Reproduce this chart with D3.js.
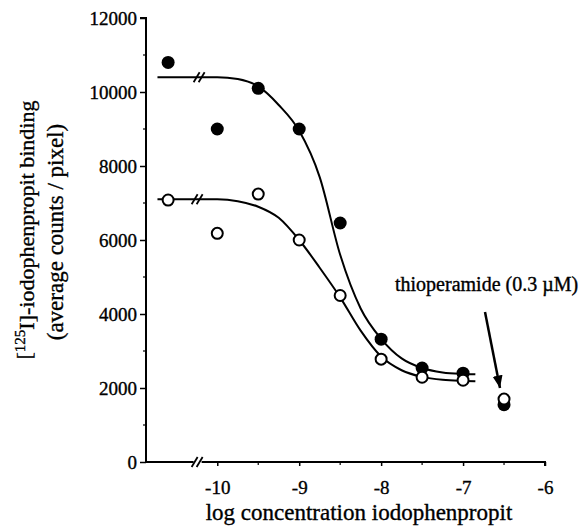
<!DOCTYPE html>
<html>
<head>
<meta charset="utf-8">
<script src="https://cdn.jsdelivr.net/npm/d3@7"></script>
<style>
  body { margin: 0; background: #fff; }
  svg text { font-family: "Liberation Serif", "Times New Roman", serif; fill: #000; stroke: #000; stroke-width: 0.35px; }
</style>
</head>
<body>
<div id="chart"></div>
<script>
// data
const concs = [-10.6, -10, -9.5, -9, -8.5, -8, -7.5, -7];
const filledVals = [10800, 9000, 10100, 9000, 6460, 3320, 2540, 2400];
const openVals = [7080, 6180, 7240, 6000, 4500, 2780, 2290, 2210];

// thioperamide points
const thioConc = -6.5;
const thioFilled = 1550;
const thioOpen = 1700;

// fitted curves (traced)
const curveX = [-10.73, -10.3, -10, -9.75, -9.5, -9.25, -9, -8.75, -8.5, -8.25, -8, -7.75, -7.5, -7.25, -7, -6.85];
const filledCurve = [10400, 10400, 10400, 10350, 10150, 9650, 8950, 7700, 5600, 4150, 3330, 2800, 2540, 2420, 2380, 2370];
const openCurve = [7100, 7100, 7100, 7050, 6900, 6600, 6000, 5250, 4450, 3550, 2850, 2480, 2300, 2220, 2190, 2180];

const yTicks = [0, 2000, 4000, 6000, 8000, 10000, 12000];
const xTicks = [-10, -9, -8, -7, -6];

const width = 582, height = 526;
const svg = d3.select("#chart").append("svg")
  .attr("width", width).attr("height", height);

const x = d3.scaleLinear().domain([-10.87, -6]).range([146, 545]);
const y = d3.scaleLinear().domain([0, 12000]).range([462, 18]);

// y axis
const yAxis = d3.axisLeft(y).tickValues(yTicks).tickSize(6).tickFormat(d3.format("d"));
const yG = svg.append("g").attr("transform", `translate(${x.range()[0]},0)`).call(yAxis);
yG.attr("font-family", null).attr("font-size", null);
yG.select(".domain").attr("stroke-width", 2).attr("d", `M-6,${y(12000)}H0V${y(0)}`);
yG.selectAll(".tick line").attr("stroke-width", 1.5);
yG.selectAll(".tick text").style("font-size", "19px").attr("x", -9).attr("dy", "0.34em");

// minor y ticks
svg.append("g").selectAll("line")
  .data(d3.range(1000, 12000, 2000))
  .join("line")
  .attr("x1", x.range()[0] - 3).attr("x2", x.range()[0])
  .attr("y1", d => y(d)).attr("y2", d => y(d))
  .attr("stroke", "#000").attr("stroke-width", 1.2);

// x axis
const xAxis = d3.axisBottom(x).tickValues(xTicks).tickSize(4).tickFormat(d => d);
const xG = svg.append("g").attr("transform", `translate(0,${y(0)})`).call(xAxis);
xG.attr("font-family", null).attr("font-size", null);
xG.select(".domain").attr("stroke-width", 2).attr("d", `M${x.range()[0]},0H${x(-6)}V4`);
xG.selectAll(".tick line").attr("stroke-width", 1.5);
xG.selectAll(".tick text").style("font-size", "19px").attr("dy", "1.3em");

// minor x ticks
svg.append("g").selectAll("line")
  .data([-9.5, -8.5, -7.5, -6.5])
  .join("line")
  .attr("x1", d => x(d)).attr("x2", d => x(d))
  .attr("y1", y(0)).attr("y2", y(0) + 3)
  .attr("stroke", "#000").attr("stroke-width", 1.2);

// break marks
function breakMark(cx, cy) {
  const g = svg.append("g");
  [-3, 2].forEach(dx => {
    g.append("line")
      .attr("x1", cx + dx - 3).attr("y1", cy + 5)
      .attr("x2", cx + dx + 3).attr("y2", cy - 5)
      .attr("stroke", "#000").attr("stroke-width", 1.8);
  });
}
const breakX = x(-10.24);

// curves
const line = d3.line()
  .x(d => x(d[0]))
  .y(d => y(d[1]))
  .curve(d3.curveMonotoneX);

svg.append("path")
  .datum(curveX.map((c, i) => [c, filledCurve[i]]))
  .attr("d", line).attr("fill", "none").attr("stroke", "#000").attr("stroke-width", 2);
svg.append("path")
  .datum(curveX.map((c, i) => [c, openCurve[i]]))
  .attr("d", line).attr("fill", "none").attr("stroke", "#000").attr("stroke-width", 2);

breakMark(breakX + 2, y(10400));
breakMark(breakX, y(7100));
// axis break
svg.append("rect").attr("x", breakX - 4).attr("y", y(0) - 3).attr("width", 8).attr("height", 6).attr("fill", "#fff");
breakMark(breakX, y(0));

// points
svg.append("g").selectAll("circle")
  .data(concs.map((c, i) => [c, filledVals[i]]).concat([[thioConc, thioFilled]]))
  .join("circle")
  .attr("cx", d => x(d[0])).attr("cy", d => y(d[1]))
  .attr("r", 6.5).attr("fill", "#000");

svg.append("g").selectAll("circle")
  .data(concs.map((c, i) => [c, openVals[i]]).concat([[thioConc, thioOpen]]))
  .join("circle")
  .attr("cx", d => x(d[0])).attr("cy", d => y(d[1]))
  .attr("r", 5.5).attr("fill", "#fff").attr("stroke", "#000").attr("stroke-width", 2);

// annotation
svg.append("text")
  .attr("x", 395).attr("y", 291)
  .style("font-size", "20px")
  .text("thioperamide (0.3 \u00B5M)");

svg.append("defs").append("marker")
  .attr("id", "arrow")
  .attr("viewBox", "0 0 10 10")
  .attr("refX", 10).attr("refY", 5)
  .attr("markerWidth", 5).attr("markerHeight", 5)
  .attr("markerUnits", "strokeWidth")
  .attr("orient", "auto")
  .append("path").attr("d", "M0,1L10,5L0,9Z").attr("fill", "#000");

svg.append("line")
  .attr("x1", 485).attr("y1", 312)
  .attr("x2", 500).attr("y2", 388)
  .attr("stroke", "#000").attr("stroke-width", 2.5)
  .attr("marker-end", "url(#arrow)");

// axis labels
svg.append("text")
  .attr("x", 359).attr("y", 520)
  .attr("text-anchor", "middle")
  .style("font-size", "23px")
  .text("log concentration iodophenpropit");

const yl = svg.append("text")
  .attr("transform", "translate(31,230) rotate(-90)")
  .attr("text-anchor", "middle")
  .style("font-size", "22px");
yl.append("tspan").text("[");
yl.append("tspan").attr("dy", "-0.4em").style("font-size", "15px").text("125");
yl.append("tspan").attr("dy", "0.4em").text("I]-iodophenpropit binding");

svg.append("text")
  .attr("transform", "translate(63,232) rotate(-90)")
  .attr("text-anchor", "middle")
  .style("font-size", "23px")
  .text("(average counts / pixel)");
</script>
</body>
</html>
